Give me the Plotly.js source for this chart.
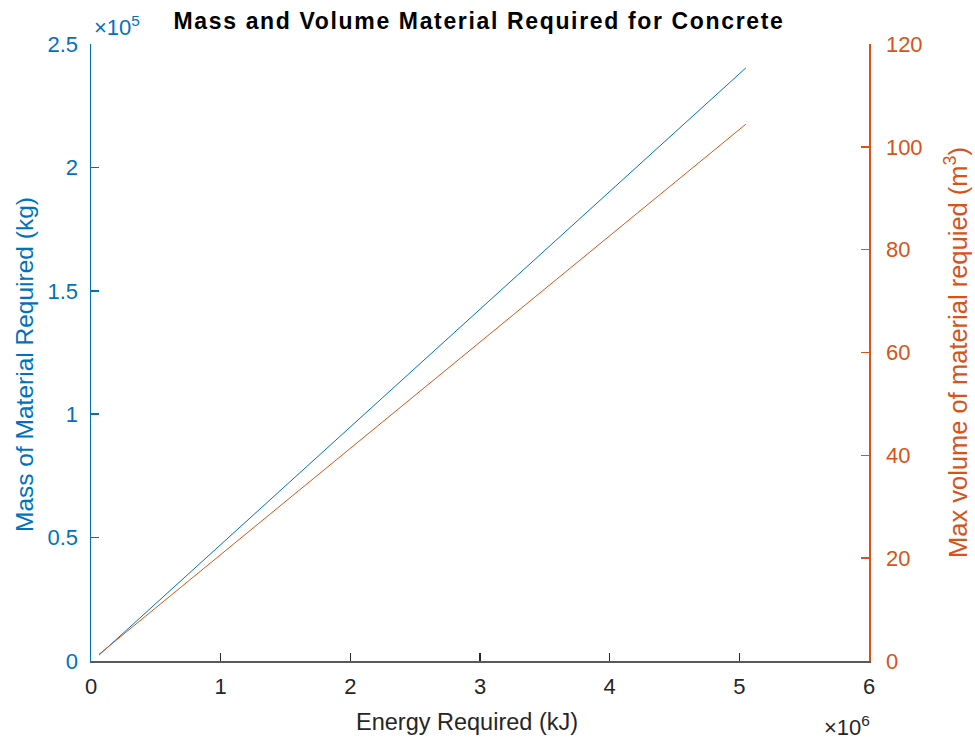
<!DOCTYPE html>
<html>
<head>
<meta charset="utf-8">
<script src="https://cdn.plot.ly/plotly-3.0.1.min.js"></script>
<style>
html,body{margin:0;padding:0;background:#fff;}
#chart{width:975px;height:744px;}
#chart .gtitle{letter-spacing:1.65px;}
</style>
</head>
<body>
<div id="chart"></div>
<script>
// Data
const energyKJ = [0.062e6, 5.05e6];
const massKg = [2400, 2.403e5];
const volumeM3 = [1.3, 104.4];

const xTickVals = [0, 1e6, 2e6, 3e6, 4e6, 5e6, 6e6];
const xTickText = ['0', '1', '2', '3', '4', '5', '6'];
const yTickVals = [0, 0.5e5, 1e5, 1.5e5, 2e5, 2.5e5];
const yTickText = ['0', '0.5', '1', '1.5', '2', '2.5'];
const y2TickVals = [0, 20, 40, 60, 80, 100, 120];

const titleText = 'Mass and Volume Material Required for Concrete';
const xLabel = 'Energy Required (kJ)';
const yLabel = 'Mass of Material Required (kg)';
const y2Label = 'Max volume of material requied (m<sup>3</sup>)';

const blue = '#0072BD';
const orange = '#D95319';
const dark = '#262626';
const font = 'Liberation Sans, Arial, Helvetica, sans-serif';

const traces = [
  {x: energyKJ, y: massKg, type: 'scatter', mode: 'lines', line: {color: blue, width: 1}, yaxis: 'y', showlegend: false, hoverinfo: 'skip'},
  {x: energyKJ, y: volumeM3, type: 'scatter', mode: 'lines', line: {color: orange, width: 1}, yaxis: 'y2', showlegend: false, hoverinfo: 'skip'}
];

const layout = {
  width: 975, height: 744,
  margin: {l: 91, r: 106, t: 44, b: 83, pad: 0},
  paper_bgcolor: '#fff', plot_bgcolor: '#fff',
  font: {family: font, size: 22, color: dark},
  title: {text: '<b>' + titleText + '</b>', font: {family: font, size: 23, color: '#000'}, x: 479/975, xanchor: 'center', xref: 'container', y: 1 - 21/744, yanchor: 'middle', yref: 'container'},
  xaxis: {
    range: [0, 6e6], tickvals: xTickVals, ticktext: xTickText,
    ticks: 'inside', ticklen: 8, tickwidth: 1.3, tickcolor: dark,
    showline: true, linecolor: '#5a5a5a', linewidth: 1.5, showgrid: false, zeroline: false,
    tickfont: {size: 22, color: dark}, ticklabelstandoff: 5
  },
  yaxis: {
    range: [0, 2.5e5], tickvals: yTickVals, ticktext: yTickText,
    ticks: 'inside', ticklen: 8, tickwidth: 1.5, tickcolor: blue,
    showline: true, linecolor: blue, linewidth: 1.5, showgrid: false, zeroline: false,
    tickfont: {size: 22, color: blue}, ticklabelstandoff: 7
  },
  yaxis2: {
    overlaying: 'y', side: 'right', anchor: 'x',
    range: [0, 120], tickvals: y2TickVals,
    ticks: 'inside', ticklen: 8, tickwidth: 1.5, tickcolor: orange,
    showline: true, linecolor: orange, linewidth: 1.5, showgrid: false, zeroline: false,
    tickfont: {size: 22, color: orange}, ticklabelstandoff: 11
  },
  annotations: [
    {text: xLabel, xref: 'paper', yref: 'paper', x: (467 - 91) / 778, y: 0, yshift: -61, xanchor: 'center', yanchor: 'middle', showarrow: false, font: {size: 23.5, color: dark, family: font}},
    {text: yLabel, xref: 'paper', yref: 'paper', x: 0, xshift: -67, y: (661 - 365) / 617, xanchor: 'center', yanchor: 'middle', textangle: -90, showarrow: false, font: {size: 24.5, color: blue, family: font}},
    {text: y2Label, xref: 'paper', yref: 'paper', x: 1, xshift: 87, y: (661 - 353) / 617, xanchor: 'center', yanchor: 'middle', textangle: -90, showarrow: false, font: {size: 25.5, color: orange, family: font}},
    {text: '×10<sup>5</sup>', xref: 'paper', yref: 'paper', x: 0, xshift: 1, y: 1, yshift: 18, xanchor: 'left', yanchor: 'middle', showarrow: false, font: {size: 22, color: blue, family: font}},
    {text: '×10<sup>6</sup>', xref: 'paper', yref: 'paper', x: 1, xshift: 3, y: 0, yshift: -65, xanchor: 'right', yanchor: 'middle', showarrow: false, font: {size: 22, color: dark, family: font}}
  ]
};

Plotly.newPlot('chart', traces, layout, {displayModeBar: false, staticPlot: true});
</script>
</body>
</html>
